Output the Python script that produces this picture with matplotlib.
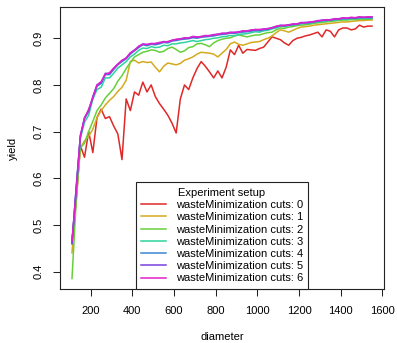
import numpy as np
import matplotlib
matplotlib.use("Agg")
import matplotlib.pyplot as plt

plt.rcParams["font.family"] = ["Liberation Sans", "DejaVu Sans"]

# diameter grid (step 20)
diameter = np.arange(110, 1551, 20)

# yield per wasteMinimization cuts setting
cuts_0 = [0.47, 0.55, 0.67, 0.645, 0.70, 0.655, 0.73, 0.748, 0.728, 0.732, 0.712, 0.695, 0.64, 0.77, 0.745,
          0.785, 0.778, 0.806, 0.785, 0.80, 0.775, 0.76, 0.748, 0.735, 0.718, 0.697, 0.77, 0.80, 0.79, 0.815,
          0.835, 0.85, 0.84, 0.828, 0.815, 0.83, 0.815, 0.838, 0.875, 0.865, 0.885, 0.868, 0.876, 0.875, 0.874,
          0.878, 0.881, 0.892, 0.903, 0.900, 0.897, 0.89, 0.885, 0.895, 0.900, 0.902, 0.905, 0.907, 0.91, 0.913,
          0.903, 0.918, 0.915, 0.903, 0.918, 0.922, 0.922, 0.918, 0.92, 0.928, 0.924, 0.926, 0.926]
cuts_1 = [0.44, 0.56, 0.665, 0.68, 0.69, 0.705, 0.73, 0.745, 0.757, 0.767, 0.775, 0.786, 0.795, 0.81, 0.85,
          0.853, 0.847, 0.85, 0.848, 0.849, 0.838, 0.828, 0.84, 0.847, 0.845, 0.843, 0.846, 0.853, 0.856, 0.86,
          0.866, 0.870, 0.869, 0.868, 0.866, 0.860, 0.868, 0.876, 0.888, 0.892, 0.887, 0.885, 0.888, 0.891, 0.892,
          0.893, 0.897, 0.900, 0.905, 0.912, 0.918, 0.916, 0.913, 0.917, 0.921, 0.924, 0.925, 0.926, 0.928, 0.929,
          0.930, 0.931, 0.932, 0.933, 0.934, 0.935, 0.935, 0.936, 0.937, 0.938, 0.938, 0.939, 0.939]
cuts_2 = [0.385, 0.55, 0.665, 0.675, 0.70, 0.722, 0.745, 0.757, 0.772, 0.782, 0.792, 0.808, 0.82, 0.835, 0.848,
          0.86, 0.865, 0.87, 0.872, 0.875, 0.874, 0.87, 0.872, 0.878, 0.881, 0.876, 0.87, 0.873, 0.88, 0.882,
          0.888, 0.889, 0.886, 0.882, 0.89, 0.895, 0.898, 0.90, 0.901, 0.905, 0.907, 0.905, 0.903, 0.905, 0.907,
          0.907, 0.910, 0.912, 0.913, 0.918, 0.922, 0.921, 0.924, 0.925, 0.927, 0.928, 0.929, 0.930, 0.932, 0.933,
          0.934, 0.935, 0.936, 0.937, 0.938, 0.939, 0.939, 0.940, 0.940, 0.941, 0.941, 0.941, 0.941]
cuts_3 = [0.46, 0.575, 0.685, 0.72, 0.735, 0.77, 0.79, 0.795, 0.815, 0.815, 0.825, 0.836, 0.843, 0.85, 0.86,
          0.866, 0.874, 0.879, 0.878, 0.882, 0.880, 0.881, 0.885, 0.884, 0.888, 0.888, 0.890, 0.891, 0.893, 0.895,
          0.893, 0.895, 0.897, 0.898, 0.900, 0.901, 0.903, 0.904, 0.906, 0.905, 0.908, 0.909, 0.910, 0.912, 0.914,
          0.913, 0.916, 0.917, 0.920, 0.922, 0.926, 0.925, 0.927, 0.928, 0.929, 0.931, 0.932, 0.932, 0.934, 0.935,
          0.937, 0.937, 0.938, 0.939, 0.940, 0.941, 0.941, 0.942, 0.942, 0.943, 0.943, 0.943, 0.943]
cuts_4 = [0.46, 0.578, 0.688, 0.728, 0.743, 0.773, 0.797, 0.803, 0.822, 0.822, 0.833, 0.843, 0.85, 0.856, 0.866,
          0.873, 0.880, 0.886, 0.884, 0.887, 0.886, 0.888, 0.891, 0.890, 0.894, 0.895, 0.897, 0.898, 0.899, 0.901,
          0.900, 0.902, 0.903, 0.904, 0.905, 0.907, 0.908, 0.909, 0.911, 0.910, 0.912, 0.913, 0.914, 0.915, 0.917,
          0.916, 0.918, 0.919, 0.922, 0.924, 0.927, 0.926, 0.928, 0.929, 0.930, 0.932, 0.933, 0.933, 0.935, 0.936,
          0.938, 0.938, 0.939, 0.940, 0.941, 0.942, 0.942, 0.943, 0.943, 0.944, 0.944, 0.944, 0.944]
cuts_5 = [0.46, 0.58, 0.69, 0.73, 0.745, 0.775, 0.80, 0.805, 0.825, 0.824, 0.835, 0.845, 0.852, 0.858, 0.868,
          0.875, 0.882, 0.888, 0.886, 0.889, 0.888, 0.890, 0.893, 0.892, 0.896, 0.897, 0.899, 0.900, 0.901, 0.903,
          0.902, 0.904, 0.905, 0.906, 0.907, 0.909, 0.910, 0.911, 0.913, 0.912, 0.914, 0.915, 0.916, 0.917, 0.919,
          0.918, 0.920, 0.920, 0.923, 0.925, 0.928, 0.927, 0.929, 0.930, 0.931, 0.933, 0.934, 0.934, 0.936, 0.937,
          0.939, 0.939, 0.940, 0.941, 0.942, 0.943, 0.943, 0.944, 0.944, 0.945, 0.945, 0.945, 0.945]
cuts_6 = [0.465, 0.57, 0.692, 0.728, 0.748, 0.772, 0.80, 0.807, 0.823, 0.826, 0.836, 0.844, 0.853, 0.857, 0.869,
          0.874, 0.883, 0.887, 0.887, 0.888, 0.889, 0.891, 0.892, 0.893, 0.895, 0.898, 0.898, 0.901, 0.900, 0.904,
          0.903, 0.903, 0.906, 0.905, 0.908, 0.908, 0.911, 0.910, 0.912, 0.913, 0.913, 0.916, 0.915, 0.918, 0.918,
          0.919, 0.919, 0.921, 0.922, 0.926, 0.927, 0.928, 0.928, 0.931, 0.930, 0.934, 0.933, 0.935, 0.935, 0.938,
          0.938, 0.940, 0.939, 0.942, 0.941, 0.944, 0.943, 0.945, 0.944, 0.946, 0.945, 0.946, 0.946]

series = [cuts_0, cuts_1, cuts_2, cuts_3, cuts_4, cuts_5, cuts_6]
labels = [f"wasteMinimization cuts: {i}" for i in range(7)]
colors = ["#E02828", "#D4AA1E", "#66D03A", "#2ED39E", "#3C88D2", "#7A40E0", "#E020CC"]

fig = plt.figure(figsize=(3.97, 3.43), dpi=100)
ax = fig.add_axes([60 / 397, 1 - 289 / 343, 324 / 397, 282 / 343])

for y, lab, c in zip(series, labels, colors):
    ax.plot(diameter, y, color=c, lw=1.1, label=lab)

ax.set_xlim(52.4, 1607.6)
ax.set_ylim(0.3626, 0.967)
ax.set_xticks(np.arange(200, 1601, 200))
ax.set_yticks([0.4, 0.5, 0.6, 0.7, 0.8, 0.9])
ax.set_yticklabels(["0.4", "0.5", "0.6", "0.7", "0.8", "0.9"])
ax.tick_params(axis="both", labelsize=8, length=5, width=0.75, pad=7, color="#222222")
ax.tick_params(axis="y", labelrotation=90)
for lbl in ax.get_yticklabels():
    lbl.set_va("center")
for s in ax.spines.values():
    s.set_linewidth(0.8)
    s.set_color("#222222")

ax.set_xlabel("diameter", fontsize=8, labelpad=12)
ax.set_ylabel("yield", fontsize=8, labelpad=11)

leg = ax.legend(title="Experiment setup", loc="lower center", bbox_to_anchor=(0.5, 0.0),
                borderaxespad=0, fontsize=8, title_fontsize=8, fancybox=False,
                edgecolor="#222222", framealpha=1, handlelength=2.2, handletextpad=0.9,
                labelspacing=0.2, borderpad=0.5)
leg.get_frame().set_linewidth(0.8)

fig.savefig("out.png", dpi=100)
